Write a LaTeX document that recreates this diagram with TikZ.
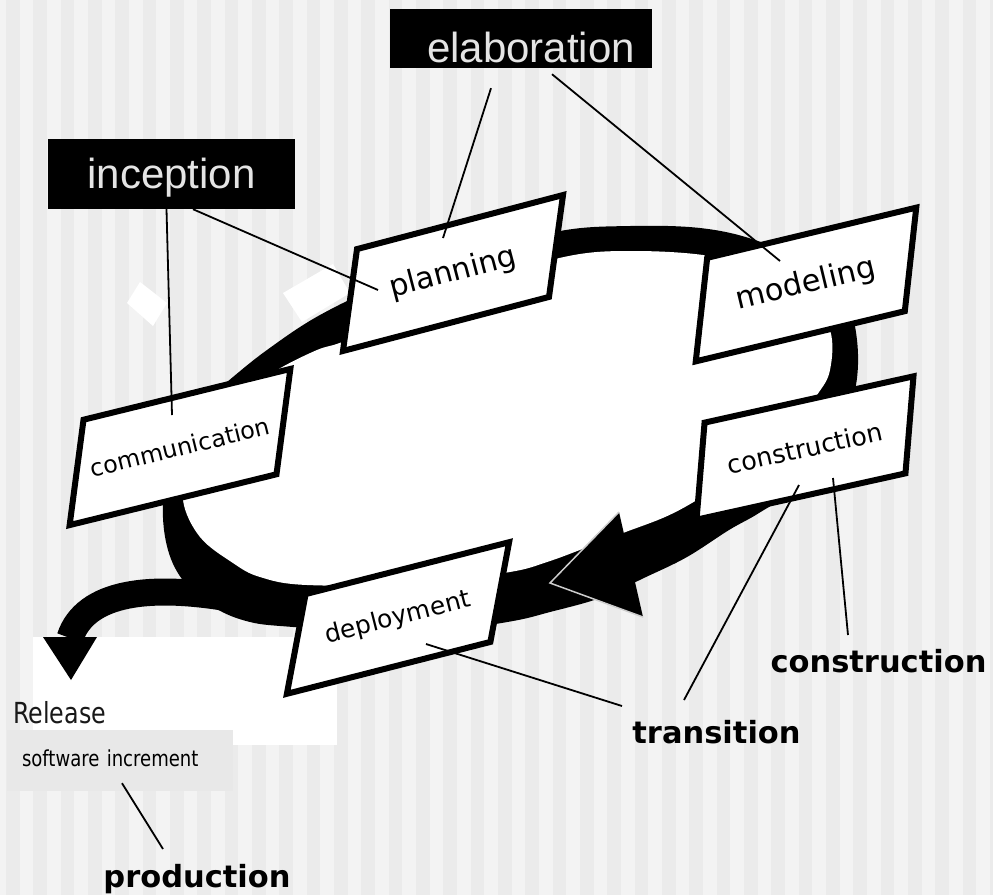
\documentclass[tikz,border=0pt]{standalone}
\usepackage{fontspec}
\setmainfont{DejaVu Sans}
\newfontfamily\phasefont{Liberation Sans}
\newfontfamily\narrowfont[FakeStretch=0.82]{DejaVu Sans}
\usepackage{xcolor}
\definecolor{stripelight}{RGB}{243,243,243}
\definecolor{stripedark}{RGB}{235,235,235}
\definecolor{phasetext}{RGB}{228,228,228}
\definecolor{incrementgray}{RGB}{232,232,232}
\definecolor{seamgray}{RGB}{205,205,205}

\begin{document}
\begin{tikzpicture}[x=1pt, y=-1pt,
    frame/.style={
        draw,
        line width=6pt,
        fill=white
    },
    activity/.style={
        inner sep=0pt
    },
    phase/.style={
        rectangle,
        fill=black,
        inner sep=0pt,
        text=phasetext,
        text depth=0pt,
        font=\phasefont\fontsize{42}{48}\selectfont
    },
    stage/.style={
        inner sep=0pt,
        anchor=base,
        font=\bfseries\fontsize{30.5}{36}\selectfont
    },
    leader/.style={line width=1.8pt}
]

    \useasboundingbox (0,0) rectangle (993,895);
    \fill[stripelight] (0,0) rectangle (993,895);
    \foreach \i in {0,...,36}
        \fill[stripedark] ({6+27.33*\i},0) rectangle ++(13.7,895);



    \fill[white] (33,637) rectangle (337,745);
    \fill[white] (140,282) -- (167,303) -- (153,326) -- (127,303) -- cycle;
    \fill[white] (283,293) -- (333,264) -- (350,293) -- (302,322) -- cycle;

    % the cycle
    \fill[black] plot[smooth cycle, tension=0.6] coordinates {
        (163,505) (172,450) (195,410) (227,382) (267,350) (320,315)
        (390,282) (470,255) (560,231) (630,226) (700,228) (755,240)
        (810,265) (845,300) (857,340) (855,390) (835,440) (800,485)
        (759,513) (729,530) (687,557) (646,577) (600,598) (550,612)
        (513,621) (450,630) (380,633) (293,627) (250,622) (215,608)
        (185,583) (168,550)
    };
    \fill[white] plot[smooth cycle, tension=0.6] coordinates {
        (183,500) (190,460) (215,420) (250,390) (277,370) (317,350)
        (347,340) (420,305) (500,275) (574,255) (634,251) (703,255)
        (760,268) (805,293) (830,330) (830,370) (817,395) (790,430)
        (745,470) (697,500) (665,517) (623,533) (585,548) (547,562)
        (510,572) (420,584) (307,585) (260,577) (233,563) (200,537)
    };
    \draw[line width=27pt] (240,600) .. controls (150,583) and (85,592) .. (70,638);
    \fill (43,637) -- (97,637) -- (71,680) -- cycle;
    \fill (550,583) -- (619,512) -- (643,617) -- cycle;
    \draw[seamgray, line width=1.5pt] (619,512) -- (550,583) -- (643,617);



    \draw[frame, shift={(180,447)}, rotate=13.8, xslant=0.39]
        (-106.5,-49.5) -- (106.5,-49.5) -- (106.5,49.5) -- (-106.5,49.5) -- cycle;
    \node (communication_box) [activity, shift={(180,447)}, rotate=13.8,
        font=\fontsize{23.8}{28}\selectfont]
    {
        communication
    };

    \draw[frame, shift={(453,273)}, rotate=14.7, xslant=0.415]
        (-106.5,-47.5) -- (106.5,-47.5) -- (106.5,47.5) -- (-106.5,47.5) -- cycle;
    \node (planning_box) [activity, shift={(453,273)}, rotate=14.7,
        font=\fontsize{30}{36}\selectfont]
    {
        planning
    };

    \draw[frame, shift={(806,284.5)}, rotate=13.5, xslant=0.36]
        (-107.5,-49) -- (107.5,-49) -- (107.5,49) -- (-107.5,49) -- cycle;
    \node (modeling_box) [activity, shift={(806,284.5)}, rotate=13.5,
        font=\fontsize{30.5}{36}\selectfont]
    {
        modeling
    };

    \draw[frame, shift={(805,448)}, rotate=12.5, xslant=0.31]
        (-107,-46.5) -- (107,-46.5) -- (107,46.5) -- (-107,46.5) -- cycle;
    \node (construction_box) [activity, shift={(805,448)}, rotate=12.5,
        font=\fontsize{25.4}{30}\selectfont]
    {
        construction
    };

    \draw[frame, shift={(398,618)}, rotate=14.3, xslant=0.465]
        (-105,-46) -- (105,-46) -- (105,46) -- (-105,46) -- cycle;
    \node (deployment_box) [activity, shift={(398,618)}, rotate=14.3,
        font=\fontsize{24.9}{30}\selectfont]
    {
        deployment
    };



    \node (inception) [phase, minimum width=247pt, minimum height=70pt,
        text height=28pt, shift={(171.5,174)}]
    {
        inception
    };

    \node (elaboration) [phase, minimum width=262pt, minimum height=59pt,
        text height=47pt, shift={(521,38.5)}]
    {
        \hspace*{20pt}elaboration
    };

    \node (construction_stage) [stage, shift={(878.5,672)}] {construction};
    \node (transition_stage) [stage, shift={(716.5,743)}] {transition};
    \node (production_stage) [stage, shift={(197,887)}] {production};

    \node (release) [anchor=base west, inner sep=0pt, text=black!90,
        font=\narrowfont\fontsize{29}{34}\selectfont, shift={(13,723)}]
    {
        Release
    };

    \node (software_increment) [fill=incrementgray, minimum height=61pt,
        text width=196pt, inner xsep=15pt, inner ysep=0pt, align=left,
        text height=11pt, text depth=0pt,
        font=\narrowfont\fontsize{22}{26}\selectfont, shift={(120,760.5)}]
    {
        software increment
    };


    \draw[leader] ([xshift=-5pt]inception.south) to ([xshift=-8pt, yshift=32pt]communication_box.center);
    \draw[leader] ([xshift=21.5pt]inception.south) to ([xshift=-75pt, yshift=-17pt]planning_box.center);
    \draw[leader] ([xshift=-30pt, yshift=-20pt]elaboration.south) to ([xshift=-10pt, yshift=35pt]planning_box.center);
    \draw[leader] ([xshift=31pt, yshift=-6pt]elaboration.south) to ([xshift=-26pt, yshift=23.5pt]modeling_box.center);
    \draw[leader] ([xshift=-30.5pt, yshift=37pt]construction_stage.base) to ([xshift=28pt, yshift=-30pt]construction_box.center);
    \draw[leader] ([xshift=-32.5pt, yshift=43pt]transition_stage.base) to ([xshift=-6pt, yshift=-37pt]construction_box.center);
    \draw[leader] ([xshift=-94.5pt, yshift=37pt]transition_stage.base) to ([xshift=28pt, yshift=-26pt]deployment_box.center);
    \draw[leader] ([xshift=-34pt, yshift=38pt]production_stage.base) to ([xshift=2pt, yshift=8pt]software_increment.south);


\end{tikzpicture}
\end{document}
